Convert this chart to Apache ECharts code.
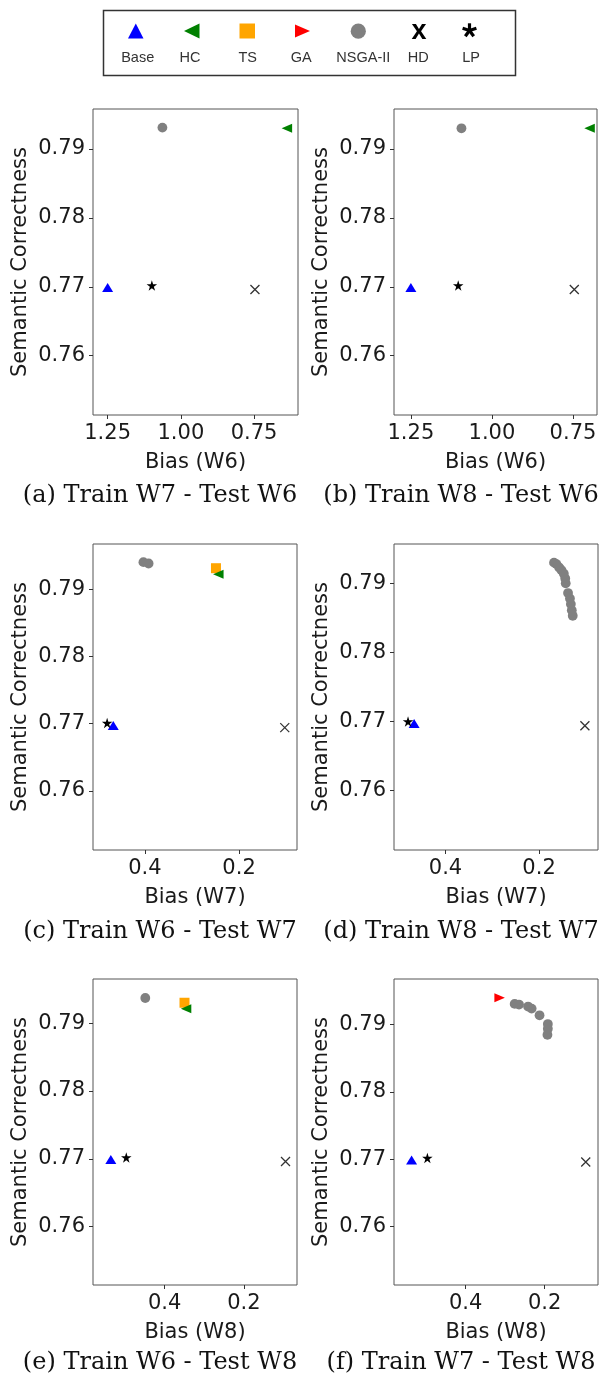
<!DOCTYPE html>
<html>
<head>
<meta charset="utf-8">
<script src="https://cdn.jsdelivr.net/npm/echarts@6.0.0/dist/echarts.min.js"></script>
<style>
  html, body { margin: 0; padding: 0; background: #fff; }
  #chart { width: 602px; height: 1379px; }
</style>
</head>
<body>
<div id="chart"></div>
<script>
// captions and axis names, one per panel (a)..(f)
const captions = [
  '(a) Train W7 - Test W6', '(b) Train W8 - Test W6',
  '(c) Train W6 - Test W7', '(d) Train W8 - Test W7',
  '(e) Train W6 - Test W8', '(f) Train W7 - Test W8'
]
const biasNames = ['Bias (W6)', 'Bias (W6)', 'Bias (W7)', 'Bias (W7)', 'Bias (W8)', 'Bias (W8)']

// axis ranges and ticks
const xMin = [0.60, 0.676, 0.077, 0.074, 0.066, 0.065]
const xMax = [1.30, 1.302, 0.51, 0.51, 0.581, 0.5815]
const yMin = [0.7514, 0.7514, 0.7512, 0.7514, 0.7514, 0.7513]
const yMax = [0.7958, 0.7958, 0.7967, 0.7957, 0.7965, 0.7968]
const xTicks = [[0.75, 1.0, 1.25], [0.75, 1.0, 1.25], [0.2, 0.4], [0.2, 0.4], [0.2, 0.4], [0.2, 0.4]]
const yTicks = [0.76, 0.77, 0.78, 0.79]

// points per method, one list per panel: [bias, semantic correctness]
const basePts = [[[1.25, 0.7699]], [[1.25, 0.7699]], [[0.467, 0.7697]], [[0.467, 0.7697]], [[0.536, 0.7699]], [[0.537, 0.7699]]]
const hcPts = [[[0.638, 0.7930]], [[0.699, 0.7930]], [[0.244, 0.7922]], [], [[0.346, 0.7921]], []]
const tsPts = [[], [], [[0.249, 0.7931]], [], [[0.350, 0.7930]], []]
const gaPts = [[], [], [], [], [], [[0.314, 0.7940]]]
const nsgaPts = [
  [[1.063, 0.7931]],
  [[1.094, 0.7930]],
  [[0.403, 0.7940], [0.392, 0.7938]],
  [[0.168, 0.7930], [0.163, 0.7928], [0.157, 0.7923], [0.152, 0.7919], [0.147, 0.7914], [0.144, 0.7907],
   [0.143, 0.7900], [0.138, 0.7886], [0.134, 0.7878], [0.132, 0.7870], [0.130, 0.7861], [0.128, 0.7853]],
  [[0.449, 0.7937]],
  [[0.276, 0.7931], [0.265, 0.7930], [0.242, 0.7927], [0.233, 0.7924], [0.213, 0.7914], [0.192, 0.7901],
   [0.192, 0.7894], [0.193, 0.7885]]
]
const hdPts = [[[0.747, 0.7696]], [[0.746, 0.7696]], [[0.103, 0.7694]], [[0.102, 0.7694]], [[0.095, 0.7696]], [[0.096, 0.7696]]]
const lpPts = [[[1.099, 0.7702]], [[1.104, 0.7702]], [[0.480, 0.7701]], [[0.480, 0.7700]], [[0.497, 0.7702]], [[0.497, 0.7702]]]

const STAR = 'path://M10,0L12.23,6.93L19.51,6.91L13.61,11.17L15.88,18.09L10,13.8L4.12,18.09L6.39,11.17L0.49,6.91L7.77,6.93Z'
const CROSS = 'path://M0,0L10,10M10,0L0,10'

const methods = [
  { name: 'Base', pts: basePts, symbol: 'triangle', size: [11, 9], rotate: 0, color: '#0000ff' },
  { name: 'TS', pts: tsPts, symbol: 'rect', size: 10, rotate: 0, color: '#ffa500' },
  { name: 'GA', pts: gaPts, symbol: 'triangle', size: [9, 10.5], rotate: -90, color: '#ff0000' },
  { name: 'NSGA-II', pts: nsgaPts, symbol: 'circle', size: 9.8, rotate: 0, color: '#808080' },
  { name: 'HC', pts: hcPts, symbol: 'triangle', size: [9, 10.5], rotate: 90, color: '#008000' },
  { name: 'HD', pts: hdPts, symbol: CROSS, size: 9, rotate: 0, color: '#000000', stroke: true },
  { name: 'LP', pts: lpPts, symbol: STAR, size: 10.5, rotate: 0, color: '#000000' }
]

// plot boxes: [left, top, right, bottom]
const boxes = [[93, 109, 298, 415], [394, 109, 597, 415], [93, 544, 297, 850], [394, 544, 598, 850], [93, 979, 297, 1285], [394, 979, 598, 1285]]
const captionY = [484, 920, 1351]

const sans = 'DejaVu Sans'
const grids = [], xAxes = [], yAxes = [], series = [], titles = []

boxes.forEach((b, i) => {
  grids.push({
    left: b[0], top: b[1], width: b[2] - b[0], height: b[3] - b[1],
    show: true, borderColor: '#555', borderWidth: 1, backgroundColor: '#fff'
  })
  xAxes.push({
    gridIndex: i, type: 'value', inverse: true, min: xMin[i], max: xMax[i],
    name: biasNames[i], nameLocation: 'middle', nameGap: 37,
    nameTextStyle: { fontFamily: sans, fontSize: 21, color: '#1a1a1a' },
    axisLine: { show: false },
    axisTick: { show: true, customValues: xTicks[i], length: 4, lineStyle: { color: '#333' } },
    axisLabel: {
      customValues: xTicks[i], margin: 8, fontFamily: sans, fontSize: 21, color: '#1a1a1a',
      formatter: v => (i < 2 ? v.toFixed(2) : v.toFixed(1))
    },
    splitLine: { show: false }
  })
  yAxes.push({
    gridIndex: i, type: 'value', min: yMin[i], max: yMax[i],
    name: 'Semantic Correctness', nameLocation: 'middle', nameGap: 62,
    nameTextStyle: { fontFamily: sans, fontSize: 21, color: '#1a1a1a' },
    axisLine: { show: false },
    axisTick: { show: true, customValues: yTicks, length: 4, lineStyle: { color: '#333' } },
    axisLabel: {
      customValues: yTicks, margin: 8, fontFamily: sans, fontSize: 21, color: '#1a1a1a',
      formatter: v => v.toFixed(2)
    },
    splitLine: { show: false }
  })
  methods.forEach((m, k) => {
    if (!m.pts[i].length) return
    series.push({
      type: 'scatter', name: m.name, xAxisIndex: i, yAxisIndex: i,
      data: m.pts[i], symbol: m.symbol, symbolSize: m.size, symbolRotate: m.rotate,
      itemStyle: m.stroke
        ? { color: 'none', borderColor: m.color, borderWidth: 1.3 }
        : { color: m.color, opacity: 1 },
      z: 2 + k, silent: true
    })
  })
  titles.push({
    text: captions[i], left: i % 2 ? 461 : 160, top: captionY[Math.floor(i / 2)],
    textAlign: 'center', padding: 0,
    textStyle: { fontFamily: 'DejaVu Serif', fontSize: 24, fontWeight: 'normal', color: '#111' }
  })
})

// legend box: symbols above, labels below
const legendFont = 'Liberation Sans'
const legendLabels = [['Base', 137.7], ['HC', 190], ['TS', 247.7], ['GA', 301.3], ['NSGA-II', 363.3], ['HD', 418.3], ['LP', 471]]
const graphic = [
  { type: 'rect', shape: { x: 103.5, y: 10.5, width: 412, height: 65 }, style: { fill: '#fff', stroke: '#333', lineWidth: 1.5 } },
  { type: 'polygon', shape: { points: [[135.8, 23.5], [143.5, 38.5], [128, 38.5]] }, style: { fill: '#0000ff' } },
  { type: 'polygon', shape: { points: [[184, 31], [199.5, 23.5], [199.5, 38.5]] }, style: { fill: '#008000' } },
  { type: 'rect', shape: { x: 239.5, y: 23.5, width: 15.5, height: 15 }, style: { fill: '#ffa500' } },
  { type: 'polygon', shape: { points: [[295, 24.5], [310, 31], [295, 37.5]] }, style: { fill: '#ff0000' } },
  { type: 'circle', shape: { cx: 358.3, cy: 31.2, r: 7.6 }, style: { fill: '#808080' } },
  { type: 'text', x: 419, y: 31.5, style: { text: 'x', font: 'bold 27px "Liberation Sans"', fill: '#000', textAlign: 'center', textVerticalAlign: 'middle' } }
]
// bold five-armed asterisk for LP
const astC = [469.5, 30.5]
const astArms = [[469.5, 23.3], [476.4, 28.3], [473.7, 36.3], [465.3, 36.3], [462.6, 28.3]]
astArms.forEach(p => {
  graphic.push({ type: 'line', shape: { x1: astC[0], y1: astC[1], x2: p[0], y2: p[1] }, style: { stroke: '#000', lineWidth: 3.2 } })
})
legendLabels.forEach(l => {
  graphic.push({
    type: 'text', x: l[1], y: 57.5,
    style: { text: l[0], font: '14.5px "' + legendFont + '"', fill: '#333', textAlign: 'center', textVerticalAlign: 'middle' }
  })
})

const chart = echarts.init(document.getElementById('chart'))
chart.setOption({
  animation: false,
  backgroundColor: '#fff',
  title: titles,
  grid: grids,
  xAxis: xAxes,
  yAxis: yAxes,
  series: series,
  graphic: graphic
})
</script>
</body>
</html>
